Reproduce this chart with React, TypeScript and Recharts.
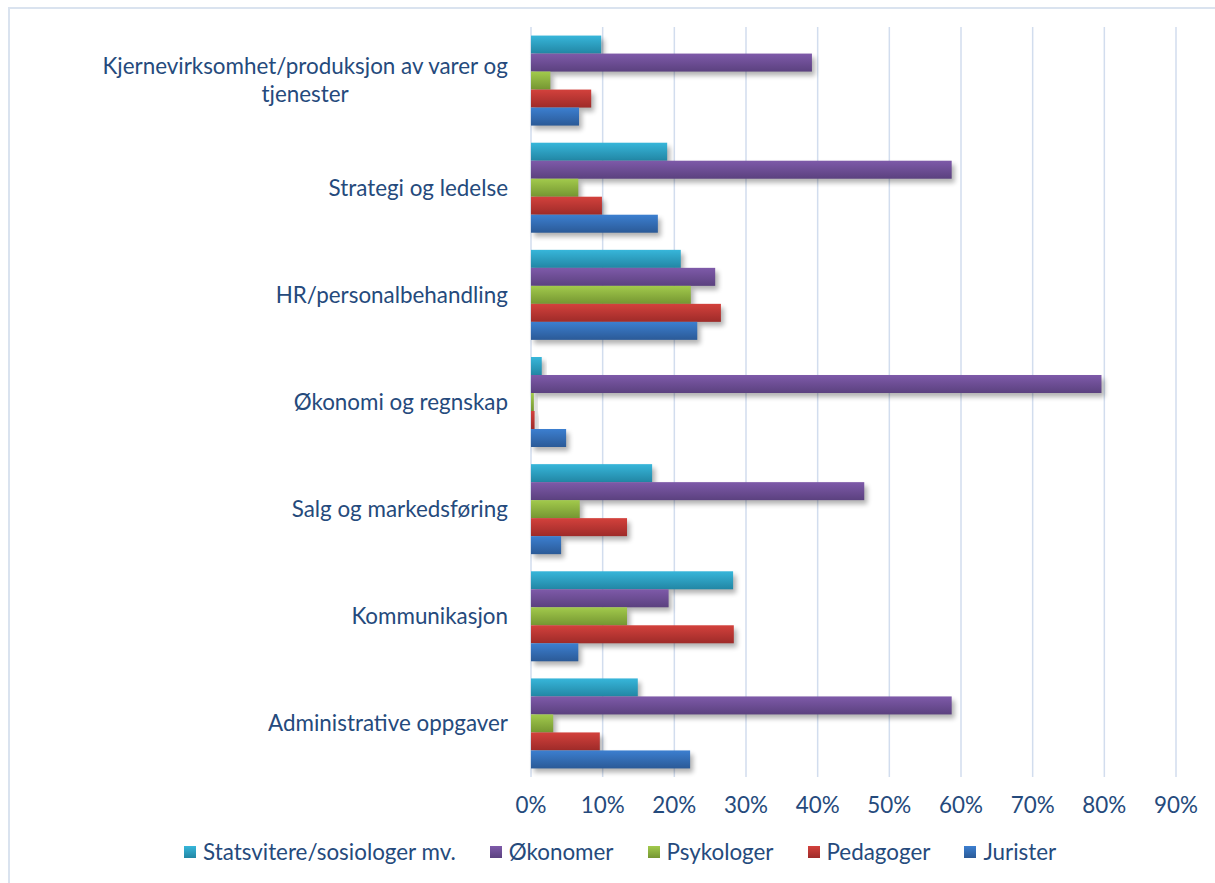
import { useLayoutEffect, useRef, useState } from 'react';
import { BarChart, Bar, XAxis, YAxis, CartesianGrid, Legend } from 'recharts';

const categories = [
  'Kjernevirksomhet/produksjon av varer og tjenester',
  'Strategi og ledelse',
  'HR/personalbehandling',
  'Økonomi og regnskap',
  'Salg og markedsføring',
  'Kommunikasjon',
  'Administrative oppgaver'
];

const statsvitere = [0.098, 0.19, 0.209, 0.015, 0.169, 0.282, 0.149];
const okonomer = [0.392, 0.587, 0.257, 0.796, 0.465, 0.192, 0.587];
const psykologer = [0.027, 0.066, 0.223, 0.004, 0.068, 0.134, 0.031];
const pedagoger = [0.084, 0.099, 0.265, 0.005, 0.134, 0.283, 0.096];
const jurister = [0.067, 0.177, 0.232, 0.049, 0.042, 0.066, 0.222];

const xTicks = [0, 0.1, 0.2, 0.3, 0.4, 0.5, 0.6, 0.7, 0.8, 0.9];

const series = [
  { key: 'statsvitere', name: 'Statsvitere/sosiologer mv.', top: '#37b6da', bottom: '#2286a4' },
  { key: 'okonomer', name: 'Økonomer', top: '#7e5aa9', bottom: '#5b417f' },
  { key: 'psykologer', name: 'Psykologer', top: '#a2ca4c', bottom: '#759632' },
  { key: 'pedagoger', name: 'Pedagoger', top: '#d3413c', bottom: '#9e2b29' },
  { key: 'jurister', name: 'Jurister', top: '#3c7fd0', bottom: '#2b5a97' }
];

const data = categories.map((c, i) => ({
  category: c,
  statsvitere: statsvitere[i],
  okonomer: okonomer[i],
  psykologer: psykologer[i],
  pedagoger: pedagoger[i],
  jurister: jurister[i]
}));

const TEXT = '#254a7c';
const FONT = 'Lato, "Open Sans", sans-serif';
const FS = 22.4;

function wrapWords(label: string, maxChars: number) {
  const lines: string[] = [];
  let cur = '';
  label.split(' ').forEach(w => {
    const next = cur ? cur + ' ' + w : w;
    if (next.length > maxChars && cur) {
      lines.push(cur);
      cur = w;
    } else {
      cur = next;
    }
  });
  if (cur) lines.push(cur);
  return lines;
}

function CategoryTick(props: any) {
  const { x, y, payload } = props;
  const ref = useRef<SVGTextElement>(null);
  const [w, setW] = useState(0);
  const lines = wrapWords(payload.value, 40);
  useLayoutEffect(() => {
    if (ref.current) setW(ref.current.getBBox().width);
  }, [payload.value]);
  const lh = 28;
  const cx = x - w / 2;
  const y0 = y - ((lines.length - 1) * lh) / 2;
  return (
    <text ref={ref} x={cx} y={y0} textAnchor="middle" fill={TEXT} fontSize={FS} fontFamily={FONT}>
      {lines.map((l, i) => (
        <tspan key={i} x={cx} dy={i === 0 ? '0.35em' : lh}>{l}</tspan>
      ))}
    </text>
  );
}

function ShadedBar(props: any) {
  const { x, y, width, height, gradId } = props;
  if (!width || width <= 0) return null;
  return (
    <g>
      <rect x={x + 3} y={y + 4} width={width} height={height} fill="#000" opacity={0.3} filter="url(#barShadow)" />
      <rect x={x} y={y} width={width} height={height} fill={`url(#${gradId})`} />
    </g>
  );
}

function LegendContent() {
  return (
    <div style={{
      height: 50,
      boxSizing: 'border-box',
      paddingTop: 20,
      paddingLeft: 184,
      display: 'flex',
      alignItems: 'center',
      fontFamily: FONT,
      fontSize: FS,
      color: TEXT
    }}>
      {series.map(s => (
        <div key={s.key} style={{ display: 'flex', alignItems: 'center', marginRight: 34 }}>
          <span style={{
            width: 12,
            height: 12,
            marginRight: 7,
            background: `linear-gradient(${s.top}, ${s.bottom})`
          }} />
          <span style={{ lineHeight: '30px' }}>{s.name}</span>
        </div>
      ))}
    </div>
  );
}

export default function App() {
  return (
    <div style={{ position: 'absolute', left: 0, top: 0, width: 1215, height: 883, background: '#fff' }}>
      <div style={{
        position: 'absolute',
        left: 8,
        top: 7,
        width: 1215,
        height: 883,
        borderLeft: '2px solid #dae3ef',
        borderTop: '2px solid #dae3ef'
      }} />
      <BarChart
        width={1215}
        height={883}
        data={data}
        layout="vertical"
        barCategoryGap="8%"
        barGap={0}
        margin={{ top: 27, right: 39, left: 0, bottom: 16 }}
        style={{ position: 'absolute', left: 0, top: 0 }}
      >
        <defs>
          {series.map(s => (
            <linearGradient key={s.key} id={`grad-${s.key}`} x1="0" y1="0" x2="0" y2="1">
              <stop offset="0%" stopColor={s.top} />
              <stop offset="100%" stopColor={s.bottom} />
            </linearGradient>
          ))}
          <filter id="barShadow" x="-10%" y="-50%" width="130%" height="250%">
            <feGaussianBlur stdDeviation="2.5" />
          </filter>
        </defs>
        <CartesianGrid horizontal={false} stroke="#d2ddee" strokeWidth={1.5} />
        <XAxis
          type="number"
          domain={[0, 0.9]}
          ticks={xTicks}
          tickFormatter={(v: number) => `${Math.round(v * 100)}%`}
          axisLine={false}
          tickLine={false}
          tickSize={0}
          tickMargin={20}
          height={40}
          tick={{ fill: TEXT, fontSize: FS, fontFamily: FONT }}
          interval={0}
        />
        <YAxis
          type="category"
          dataKey="category"
          width={531}
          axisLine={false}
          tickLine={false}
          tickSize={0}
          tickMargin={23}
          interval={0}
          tick={<CategoryTick />}
        />
        <Legend verticalAlign="bottom" height={50} content={<LegendContent />} wrapperStyle={{ left: 0, width: 1215 }} />
        {series.map(s => (
          <Bar
            key={s.key}
            dataKey={s.key}
            name={s.name}
            fill={s.top}
            isAnimationActive={false}
            shape={(p: any) => <ShadedBar {...p} gradId={`grad-${s.key}`} />}
          />
        ))}
      </BarChart>
    </div>
  );
}
